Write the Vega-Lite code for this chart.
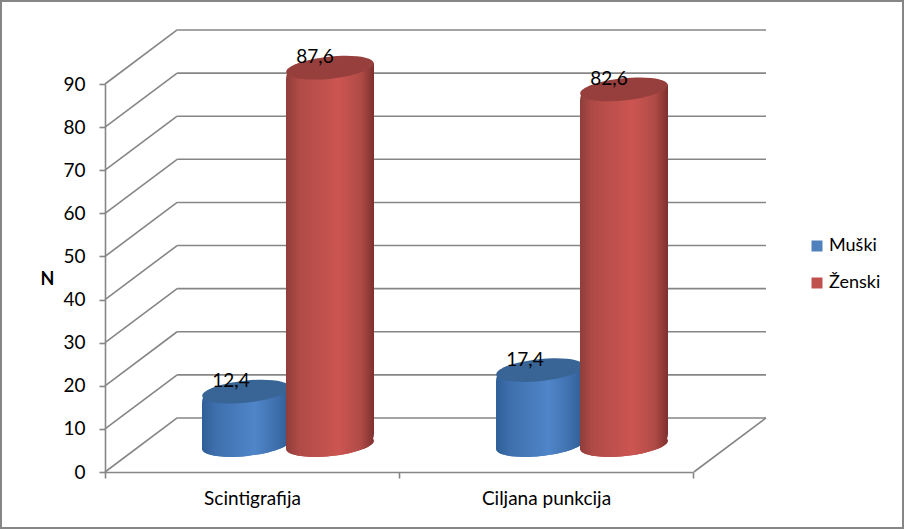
{"$schema":"https://vega.github.io/schema/vega-lite/v6.json","width":904,"height":529,"padding":0,"autosize":{"type":"none"},"background":"white","view":{"stroke":"#868686","strokeWidth":4,"fill":"white"},"config":{"font":"Lato"},
"datasets":{"bars":[{"metoda":"Scintigrafija","pol":"Muški","vrednost":12.4,"oznaka":"12,4"},{"metoda":"Scintigrafija","pol":"Ženski","vrednost":87.6,"oznaka":"87,6"},{"metoda":"Ciljana punkcija","pol":"Muški","vrednost":17.4,"oznaka":"17,4"},{"metoda":"Ciljana punkcija","pol":"Ženski","vrednost":82.6,"oznaka":"82,6"}],
"walls":[{"x0":0.245,"x1":2.245,"y0":12.53,"y1":12.53},{"x0":0.245,"x1":2.245,"y0":22.53,"y1":22.53},{"x0":0.245,"x1":2.245,"y0":32.53,"y1":32.53},{"x0":0.245,"x1":2.245,"y0":42.53,"y1":42.53},{"x0":0.245,"x1":2.245,"y0":52.53,"y1":52.53},{"x0":0.245,"x1":2.245,"y0":62.53,"y1":62.53},{"x0":0.245,"x1":2.245,"y0":72.53,"y1":72.53},{"x0":0.245,"x1":2.245,"y0":82.53,"y1":82.53},{"x0":0.245,"x1":2.245,"y0":92.53,"y1":92.53},{"x0":0.245,"x1":2.245,"y0":102.53,"y1":102.53},{"x0":0,"x1":0.245,"y0":0,"y1":12.53},{"x0":0,"x1":0.245,"y0":10,"y1":22.53},{"x0":0,"x1":0.245,"y0":20,"y1":32.53},{"x0":0,"x1":0.245,"y0":30,"y1":42.53},{"x0":0,"x1":0.245,"y0":40,"y1":52.53},{"x0":0,"x1":0.245,"y0":50,"y1":62.53},{"x0":0,"x1":0.245,"y0":60,"y1":72.53},{"x0":0,"x1":0.245,"y0":70,"y1":82.53},{"x0":0,"x1":0.245,"y0":80,"y1":92.53},{"x0":0,"x1":0.245,"y0":90,"y1":102.53},{"x0":2,"x1":2.245,"y0":0,"y1":12.53}]},
"resolve":{"scale":{"x":"independent","y":"independent","color":"independent"},"axis":{"x":"independent","y":"independent"}},
"layer":[
{"data":{"name":"walls"},"mark":{"type":"rule","color":"#868686","strokeWidth":1.6,"clip":false},"encoding":{"x":{"field":"x0","type":"quantitative","axis":null,"scale":{"domain":[0,2.245],"range":[105,766],"nice":false,"zero":false}},"x2":{"field":"x1"},"y":{"field":"y0","type":"quantitative","scale":{"domain":[0,90],"range":[472,84],"nice":false,"clamp":false},"axis":{"orient":"left","offset":-105,"values":[0,10,20,30,40,50,60,70,80,90],"grid":false,"domainColor":"#868686","domainWidth":1.6,"tickColor":"#868686","tickWidth":1.6,"tickSize":6,"labelFont":"Lato","labelFontSize":19,"labelColor":"#000000","labelPadding":14,"title":"N","titleFont":"Lato","titleFontSize":18,"titleFontWeight":"bold","titleColor":"#000000","titleAngle":0,"titleAlign":"center","titleBaseline":"middle","titleX":-58,"titleY":279}},"y2":{"field":"y1"}}},
{"data":{"name":"bars"},"mark":{"type":"point","opacity":0},"encoding":{"x":{"field":"metoda","type":"nominal","sort":null,"scale":{"domain":["Scintigrafija","Ciljana punkcija"],"range":[105,693],"paddingInner":0,"paddingOuter":0},"axis":{"orient":"bottom","offset":-57,"title":null,"labelAngle":0,"tickBand":"extent","domainColor":"#868686","domainWidth":1.6,"tickColor":"#868686","tickWidth":1.6,"tickSize":6,"labelFont":"Lato","labelFontSize":19,"labelColor":"#000000","labelPadding":11}}}},
{"data":{"name":"bars"},"encoding":{"x":{"field":"metoda","type":"nominal","sort":null,"axis":null,"scale":{"domain":["Scintigrafija","Ciljana punkcija"],"range":[141,729],"paddingInner":0.4286,"paddingOuter":0.2143}},"xOffset":{"field":"pol","type":"nominal","scale":{"domain":["Muški","Ženski"],"paddingInner":0,"paddingOuter":0}},"y":{"field":"vrednost","type":"quantitative","axis":null,"scale":{"domain":[0,90],"range":[445,57.4],"nice":false}}},
"layer":[
{"mark":{"type":"point","filled":true,"size":7744,"opacity":1,"strokeWidth":0,"shape":"M-0.995,0.105A1,0.25 -6 1 1 0.995,-0.105A1,0.25 -6 1 1 -0.995,0.105Z"},"encoding":{"y":{"datum":0},"color":{"field":"pol","type":"nominal","scale":{"domain":["Muški","Ženski"],"range":["#4F81BD","#C0504D"]},"legend":{"orient":"none","legendX":808,"legendY":237,"title":null,"symbolType":"square","symbolSize":121,"symbolStrokeWidth":0,"symbolOpacity":1,"labelFont":"Lato","labelFontSize":18,"labelColor":"#000000","labelOffset":3,"rowPadding":19,"padding":0}}}},
{"transform":[{"filter":"datum.pol === 'Muški'"}],"layer":[
{"mark":{"type":"point","filled":true,"size":7744,"opacity":1,"strokeWidth":0,"shape":"M-0.995,0.105A1,0.25 -6 1 1 0.995,-0.105A1,0.25 -6 1 1 -0.995,0.105Z","color":{"gradient":"linear","x1":0,"x2":1,"y1":0,"y2":0,"stops":[{"offset":0,"color":"#2f5f96"},{"offset":0.15,"color":"#3e6fac"},{"offset":0.6,"color":"#4f86c9"},{"offset":0.85,"color":"#3e6fac"},{"offset":1,"color":"#2f5c90"}]}},"encoding":{"y":{"datum":0}}},
{"mark":{"type":"bar","width":88,"yOffset":-4.6,"y2Offset":4.6,"cornerRadiusTopLeft":16,"cornerRadiusBottomRight":16,"color":{"gradient":"linear","x1":0,"x2":1,"y1":0,"y2":0,"stops":[{"offset":0,"color":"#2f5f96"},{"offset":0.15,"color":"#3e6fac"},{"offset":0.6,"color":"#4f86c9"},{"offset":0.85,"color":"#3e6fac"},{"offset":1,"color":"#2f5c90"}]}},"encoding":{"y2":{"datum":0}}},
{"mark":{"type":"point","filled":true,"size":7744,"opacity":1,"strokeWidth":0,"color":"#386595","shape":"M-0.995,0.105A1,0.25 -6 1 1 0.995,-0.105A1,0.25 -6 1 1 -0.995,0.105Z"}}]},
{"transform":[{"filter":"datum.pol === 'Ženski'"}],"layer":[
{"mark":{"type":"point","filled":true,"size":7744,"opacity":1,"strokeWidth":0,"shape":"M-0.995,0.105A1,0.25 -6 1 1 0.995,-0.105A1,0.25 -6 1 1 -0.995,0.105Z","color":{"gradient":"linear","x1":0,"x2":1,"y1":0,"y2":0,"stops":[{"offset":0,"color":"#8f3d3a"},{"offset":0.15,"color":"#b04b47"},{"offset":0.6,"color":"#cc5551"},{"offset":0.85,"color":"#b04b47"},{"offset":1,"color":"#7e302e"}]}},"encoding":{"y":{"datum":0}}},
{"mark":{"type":"bar","width":88,"yOffset":-4.6,"y2Offset":4.6,"cornerRadiusTopLeft":16,"cornerRadiusBottomRight":16,"color":{"gradient":"linear","x1":0,"x2":1,"y1":0,"y2":0,"stops":[{"offset":0,"color":"#8f3d3a"},{"offset":0.15,"color":"#b04b47"},{"offset":0.6,"color":"#cc5551"},{"offset":0.85,"color":"#b04b47"},{"offset":1,"color":"#7e302e"}]}},"encoding":{"y2":{"datum":0}}},
{"mark":{"type":"point","filled":true,"size":7744,"opacity":1,"strokeWidth":0,"color":"#963f3c","shape":"M-0.995,0.105A1,0.25 -6 1 1 0.995,-0.105A1,0.25 -6 1 1 -0.995,0.105Z"}}]},
{"mark":{"type":"text","font":"Lato","fontSize":19,"color":"#000000","dx":-15,"dy":-10.5,"baseline":"middle","align":"center"},"encoding":{"text":{"field":"oznaka"}}}
]}
]}
